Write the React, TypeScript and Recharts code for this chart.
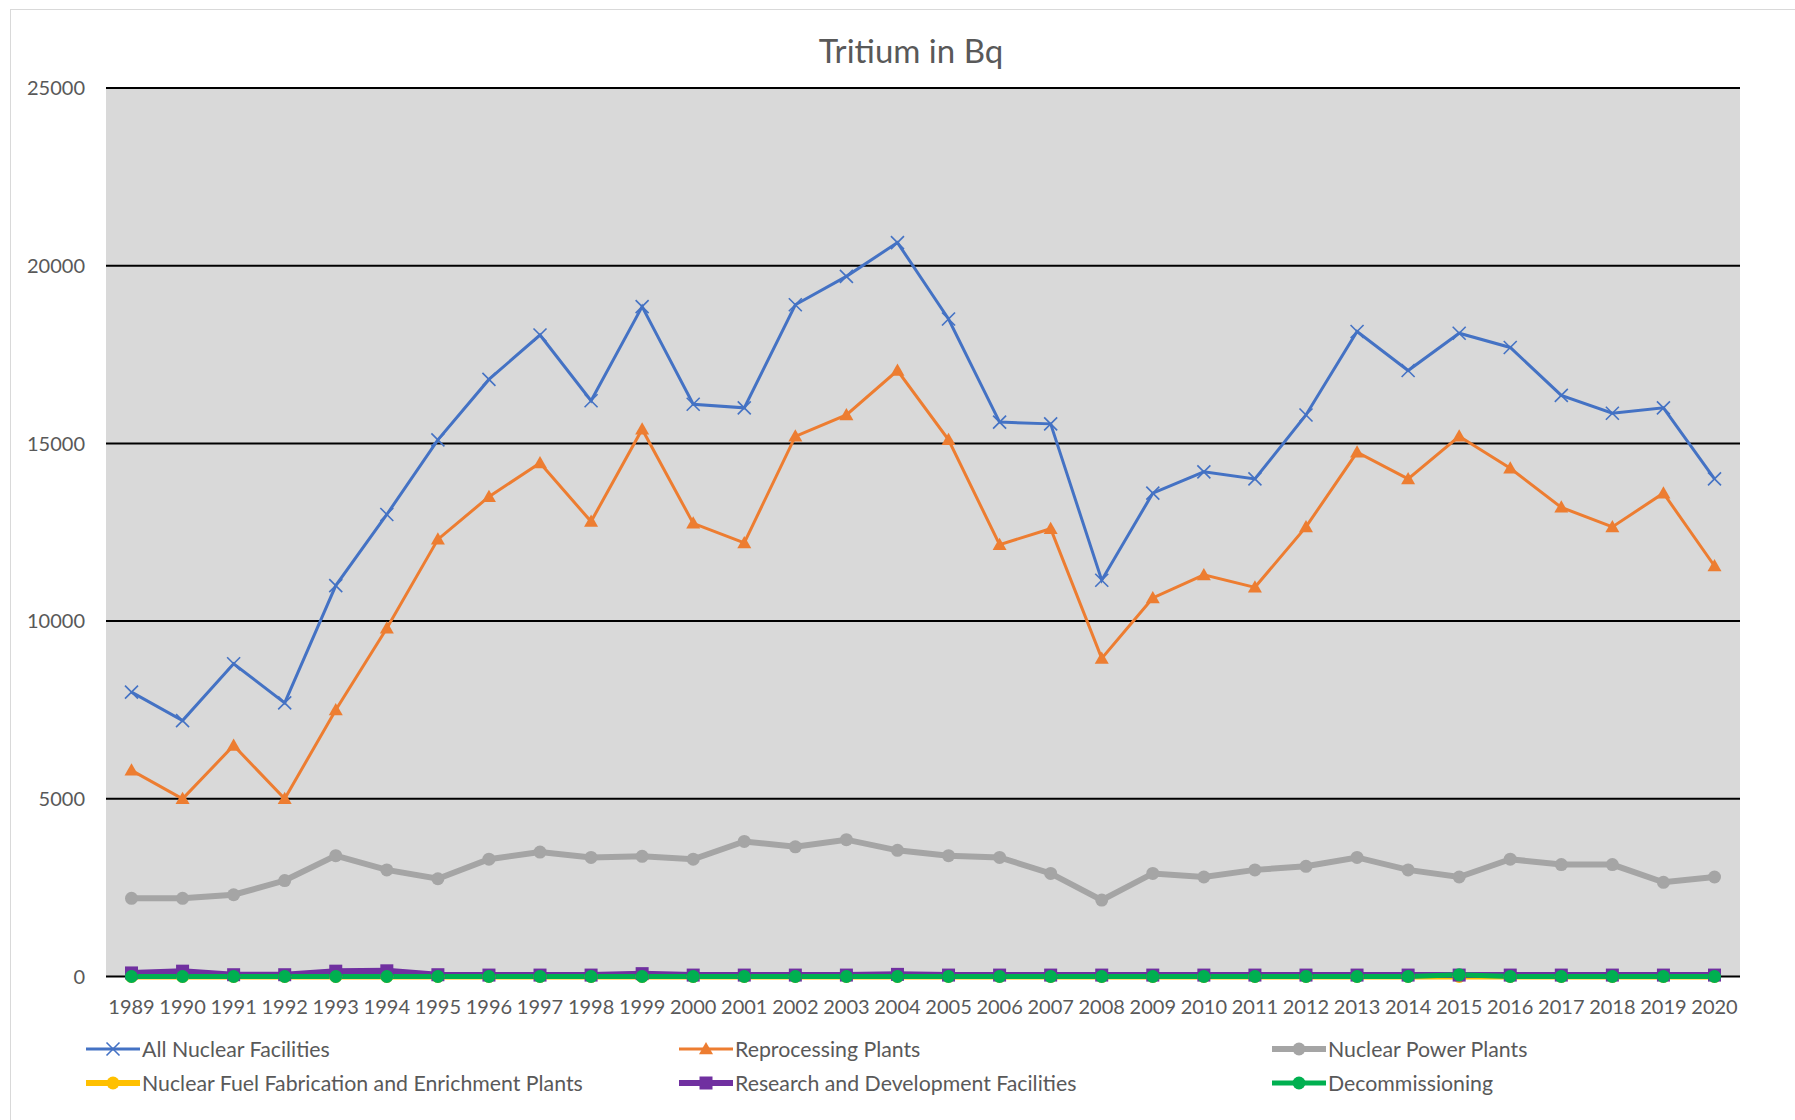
import { CartesianGrid, Line, LineChart, XAxis, YAxis } from "recharts";

const years = [
  "1989", "1990", "1991", "1992", "1993", "1994", "1995", "1996", "1997", "1998",
  "1999", "2000", "2001", "2002", "2003", "2004", "2005", "2006", "2007", "2008",
  "2009", "2010", "2011", "2012", "2013", "2014", "2015", "2016", "2017", "2018",
  "2019", "2020",
];

const allFacilities = [
  8000, 7200, 8800, 7700, 11000, 13000, 15100, 16800, 18050, 16200,
  18850, 16100, 16000, 18900, 19700, 20650, 18500, 15600, 15550, 11150,
  13600, 14200, 14000, 15800, 18150, 17050, 18100, 17700, 16350, 15850,
  16000, 14000,
];

const reprocessing = [
  5800, 5000, 6500, 5000, 7500, 9800, 12300, 13500, 14450, 12800,
  15400, 12750, 12200, 15200, 15800, 17050, 15100, 12150, 12600, 8950,
  10650, 11300, 10950, 12650, 14750, 14000, 15200, 14300, 13200, 12650,
  13600, 11550,
];

const powerPlants = [
  2200, 2200, 2300, 2700, 3400, 3000, 2750, 3300, 3500, 3350,
  3380, 3300, 3800, 3650, 3850, 3550, 3400, 3350, 2900, 2150,
  2900, 2800, 3000, 3100, 3350, 3000, 2800, 3300, 3150, 3150,
  2650, 2800,
];

const fuelFabrication = [
  0, 0, 0, 0, 0, 0, 0, 0, 0, 0,
  0, 0, 0, 0, 0, 0, 0, 0, 0, 0,
  0, 0, 0, 0, 0, 0, 0, 0, 0, 0,
  0, 0,
];

const research = [
  100, 150, 50, 50, 150, 160, 50, 40, 40, 40,
  80, 40, 40, 40, 40, 60, 40, 40, 40, 40,
  40, 40, 40, 40, 40, 40, 40, 40, 40, 40,
  40, 40,
];

const decommissioning = [
  0, 0, 0, 0, 0, 0, 0, 0, 0, 0,
  0, 0, 0, 0, 0, 0, 0, 0, 0, 0,
  0, 0, 0, 0, 0, 0, 50, 0, 0, 0,
  0, 0,
];

const yTicks = [0, 5000, 10000, 15000, 20000, 25000];

const COLORS = {
  all: "#4472C4",
  reprocessing: "#ED7D31",
  power: "#A5A5A5",
  fuel: "#FFC000",
  research: "#7030A0",
  decommissioning: "#00B050",
  text: "#595959",
};

const FONT = "Lato, 'Open Sans', sans-serif";

const data = years.map((year, i) => ({
  year,
  all: allFacilities[i],
  reprocessing: reprocessing[i],
  power: powerPlants[i],
  fuel: fuelFabrication[i],
  research: research[i],
  decommissioning: decommissioning[i],
}));

type Marker = "cross" | "triangle" | "circle" | "square";

function markerShape(kind: Marker, color: string, cx: number, cy: number, key?: string) {
  if (kind === "cross") {
    const h = 6.5;
    return (
      <g key={key}>
        <line x1={cx - h} y1={cy - h} x2={cx + h} y2={cy + h} stroke={color} strokeWidth={1.6} />
        <line x1={cx - h} y1={cy + h} x2={cx + h} y2={cy - h} stroke={color} strokeWidth={1.6} />
      </g>
    );
  }
  if (kind === "triangle") {
    const s = 7;
    return (
      <path
        key={key}
        d={`M${cx},${cy - s} L${cx + s},${cy + s * 0.75} L${cx - s},${cy + s * 0.75} Z`}
        fill={color}
      />
    );
  }
  if (kind === "square") {
    return <rect key={key} x={cx - 6.5} y={cy - 6.5} width={13} height={13} fill={color} />;
  }
  return <circle key={key} cx={cx} cy={cy} r={6.5} fill={color} />;
}

function makeDot(kind: Marker, color: string) {
  return (props: any) => markerShape(kind, color, props.cx, props.cy, props.key);
}

const series: { key: string; name: string; color: string; width: number; marker: Marker }[] = [
  { key: "all", name: "All Nuclear Facilities", color: COLORS.all, width: 3, marker: "cross" },
  { key: "reprocessing", name: "Reprocessing Plants", color: COLORS.reprocessing, width: 3, marker: "triangle" },
  { key: "power", name: "Nuclear Power Plants", color: COLORS.power, width: 6, marker: "circle" },
  { key: "fuel", name: "Nuclear Fuel Fabrication and Enrichment Plants", color: COLORS.fuel, width: 6, marker: "circle" },
  { key: "research", name: "Research and Development Facilities", color: COLORS.research, width: 6, marker: "square" },
  { key: "decommissioning", name: "Decommissioning", color: COLORS.decommissioning, width: 5, marker: "circle" },
];

const legendColumns = [86, 679, 1272];
const legendRows = [1049, 1083];

function LegendItem({ s, left, top }: { s: (typeof series)[number]; left: number; top: number }) {
  return (
    <div
      style={{
        position: "absolute",
        left,
        top: top - 14,
        height: 28,
        display: "flex",
        alignItems: "center",
        whiteSpace: "nowrap",
        fontFamily: FONT,
        fontSize: 21.3,
        color: COLORS.text,
      }}
    >
      <svg width={54} height={28} style={{ marginRight: 2 }}>
        <line x1={0} y1={14} x2={54} y2={14} stroke={s.color} strokeWidth={s.width} />
        {markerShape(s.marker, s.color, 27, 14)}
      </svg>
      <span>{s.name}</span>
    </div>
  );
}

export default function App() {
  return (
    <div
      style={{
        position: "absolute",
        left: 0,
        top: 0,
        width: 1795,
        height: 1120,
        overflow: "hidden",
        background: "#ffffff",
      }}
    >
      <div
        style={{
          position: "absolute",
          left: 10,
          top: 9,
          width: 1800,
          height: 1200,
          border: "1px solid #d9d9d9",
        }}
      />
      <div
        style={{
          position: "absolute",
          left: 611,
          width: 600,
          top: 30,
          textAlign: "center",
          fontFamily: FONT,
          fontSize: 33,
          color: COLORS.text,
        }}
      >
        Tritium in Bq
      </div>
      <div style={{ position: "absolute", left: 0, top: 0 }}>
        <LineChart
          width={1795}
          height={1120}
          data={data}
          margin={{ top: 88, right: 55, left: 0, bottom: 113.5 }}
        >
          <CartesianGrid
            vertical={false}
            stroke="#000000"
            strokeWidth={2}
            fill="#D9D9D9"
            fillOpacity={1}
          />
          <XAxis
            dataKey="year"
            interval={0}
            axisLine={false}
            tickLine={false}
            tickSize={0}
            tickMargin={23}
            height={30}
            padding={{ left: 25.5, right: 25.5 }}
            tick={{ fill: COLORS.text, fontSize: 20, fontFamily: FONT }}
          />
          <YAxis
            domain={[0, 25000]}
            ticks={yTicks}
            axisLine={false}
            tickLine={false}
            tickSize={0}
            tickMargin={21}
            width={106}
            tick={{ fill: COLORS.text, fontSize: 20, fontFamily: FONT }}
          />
          {series.map((s) => (
            <Line
              key={s.key}
              type="linear"
              dataKey={s.key}
              name={s.name}
              stroke={s.color}
              strokeWidth={s.width}
              dot={makeDot(s.marker, s.color)}
              activeDot={false}
              isAnimationActive={false}
            />
          ))}
        </LineChart>
      </div>
      {series.map((s, i) => (
        <LegendItem
          key={s.key}
          s={s}
          left={legendColumns[i % 3]}
          top={legendRows[Math.floor(i / 3)]}
        />
      ))}
    </div>
  );
}
